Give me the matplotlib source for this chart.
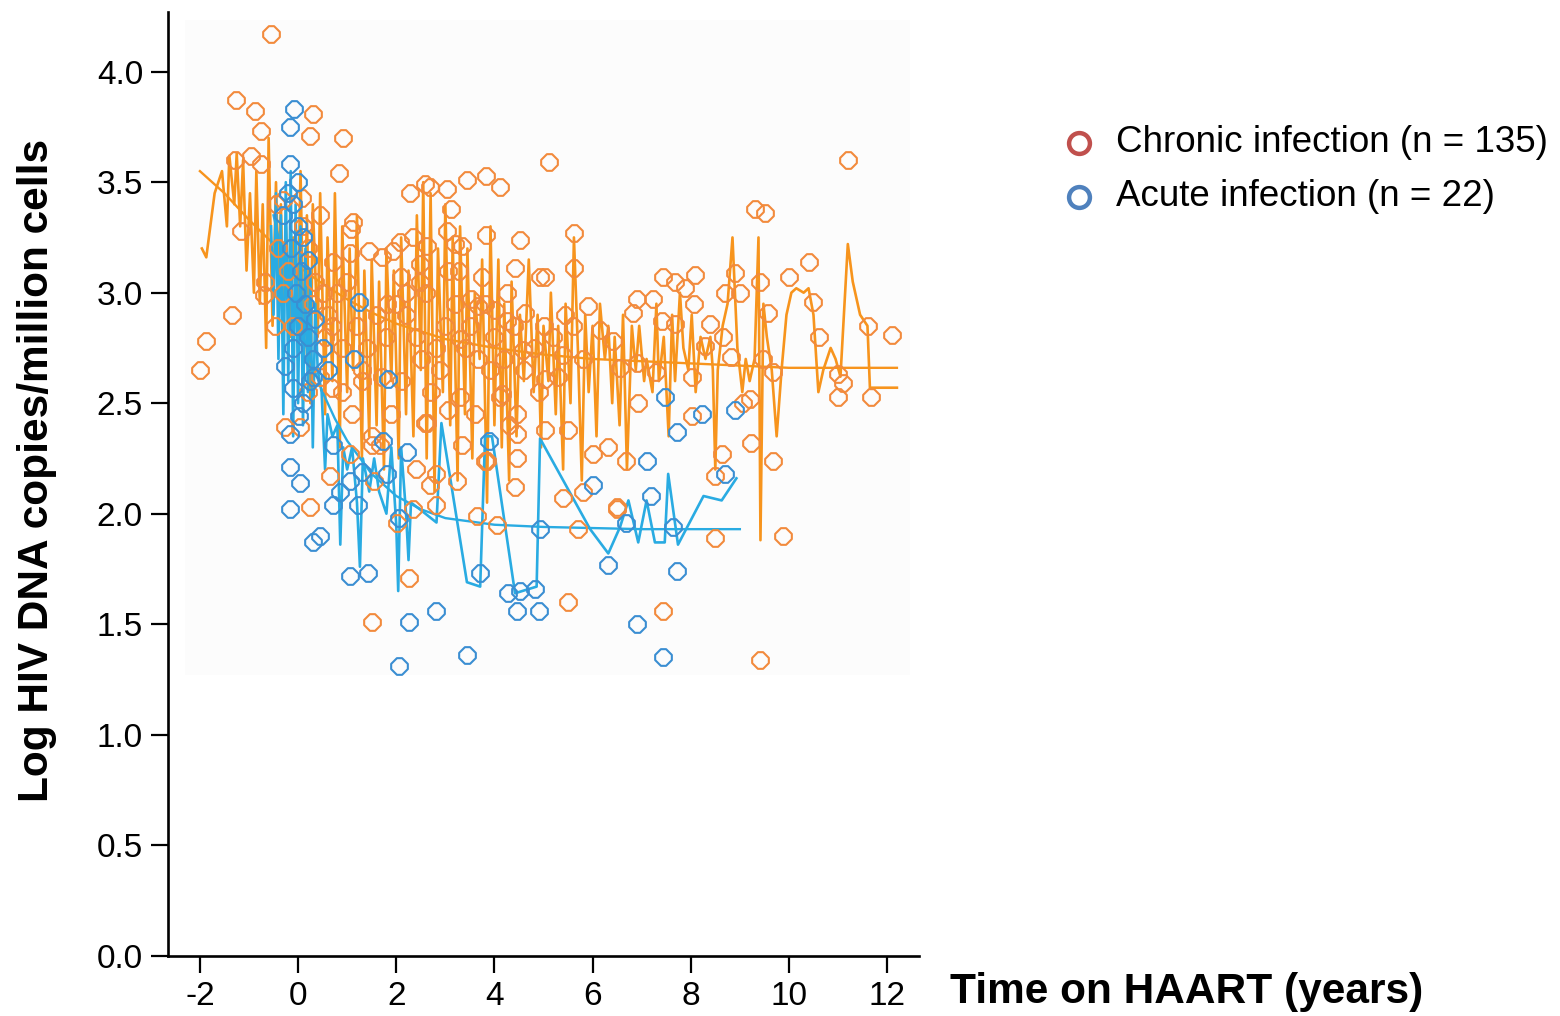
import matplotlib
matplotlib.use("Agg")
import matplotlib.pyplot as plt
from matplotlib.path import Path
from matplotlib.patches import Rectangle
from matplotlib.lines import Line2D

plt.rcParams['font.family'] = ['Liberation Sans', 'DejaVu Sans']

# ---------------- data ----------------
chronic_points = [
    (-2.00, 2.65), (-1.87, 2.78), (-0.56, 4.17), (-1.27, 3.87), (-0.87, 3.82), (-0.76, 3.73),
    (0.31, 3.81), (0.24, 3.71), (0.92, 3.70), (0.84, 3.54), (-1.28, 3.60), (-0.96, 3.62),
    (-0.75, 3.58), (2.28, 3.45), (2.59, 3.49), (0.45, 3.35), (1.11, 3.32), (1.07, 3.29),
    (-1.16, 3.28), (2.08, 3.23), (2.35, 3.25), (1.44, 3.19), (1.71, 3.16), (0.72, 3.14),
    (1.06, 3.18), (1.94, 3.19), (2.10, 3.07), (2.48, 3.13), (-0.67, 3.05), (-0.69, 2.99),
    (-1.35, 2.90), (-0.47, 2.85), (1.81, 2.95), (0.08, 3.43), (-0.31, 3.42),
    (-0.26, 2.39), (0.24, 2.03), (1.30, 2.60), (0.69, 2.57), (1.50, 2.31), (1.50, 1.51),
    (2.25, 1.71), (2.01, 1.96), (2.35, 2.02), (0.65, 2.17), (2.59, 2.41), (1.67, 2.31),
    (1.06, 2.27), (0.04, 2.39),
    (5.11, 3.59), (2.69, 3.48), (3.04, 3.47), (3.44, 3.51), (3.83, 3.53), (4.11, 3.48),
    (3.12, 3.38), (3.04, 3.28), (3.83, 3.26), (4.52, 3.24), (5.62, 3.27), (2.62, 3.21),
    (3.20, 3.22), (3.33, 3.21), (4.42, 3.11), (5.62, 3.11), (4.93, 3.07), (5.03, 3.07),
    (7.43, 3.07), (3.06, 3.10), (3.27, 3.10), (3.74, 3.07), (4.25, 3.00), (4.62, 2.91),
    (5.91, 2.94), (6.90, 2.97), (7.24, 2.97), (6.83, 2.91), (5.44, 2.90), (6.15, 2.83),
    (6.42, 2.78), (7.41, 2.87), (4.25, 2.87), (3.52, 2.97), (3.67, 2.94), (4.01, 2.92),
    (2.48, 3.05), (3.30, 2.79), (4.59, 2.74), (6.56, 2.66), (6.90, 2.68), (7.30, 2.64),
    (3.67, 2.70), (3.91, 2.65), (5.03, 2.61), (3.30, 2.53), (4.15, 2.54), (6.93, 2.50),
    (3.06, 2.47), (2.62, 2.41), (4.45, 2.45), (5.03, 2.38), (5.50, 2.38), (3.33, 2.31),
    (4.45, 2.36), (3.84, 2.24), (4.45, 2.25), (6.01, 2.27), (6.32, 2.30), (6.69, 2.24),
    (2.82, 2.18), (5.50, 1.60), (7.43, 1.56), (5.40, 2.07), (5.71, 1.93), (6.49, 2.02),
    (5.81, 2.10), (4.05, 1.95), (3.64, 1.99), (2.82, 2.04), (2.69, 2.13), (3.23, 2.15),
    (3.81, 2.24), (4.42, 2.12), (4.11, 2.53),
    (11.21, 3.60), (9.31, 3.38), (9.51, 3.36), (10.41, 3.14), (10.01, 3.07), (8.90, 3.09),
    (9.41, 3.05), (7.68, 3.05), (7.88, 3.02), (8.09, 3.08), (8.70, 3.00), (9.00, 3.00),
    (10.49, 2.96), (8.07, 2.95), (9.58, 2.91), (8.39, 2.86), (7.68, 2.86), (11.62, 2.85),
    (12.09, 2.81), (10.61, 2.80), (8.65, 2.80), (8.29, 2.76), (8.83, 2.71), (9.48, 2.70),
    (8.02, 2.62), (9.68, 2.64), (11.00, 2.63), (11.11, 2.59), (11.00, 2.53), (11.68, 2.53),
    (8.02, 2.44), (9.06, 2.50), (9.21, 2.52), (9.22, 2.32), (9.68, 2.24), (8.63, 2.27),
    (8.49, 2.17), (6.50, 2.03), (8.49, 1.89), (9.88, 1.90), (9.41, 1.34),
    (0.10, 3.30), (0.20, 3.20), (0.35, 3.05), (0.50, 3.00), (0.60, 2.90), (0.70, 2.85),
    (0.90, 2.75), (0.30, 2.95), (0.55, 2.80), (0.80, 3.00), (1.00, 3.05), (0.45, 2.62),
    (1.20, 2.85), (1.40, 2.75), (1.60, 2.90), (1.80, 2.80), (2.00, 2.95), (2.20, 2.90),
    (2.40, 2.80), (1.30, 2.65), (1.70, 2.62), (2.10, 2.60), (2.50, 2.70), (2.80, 2.75),
    (3.00, 2.85), (2.90, 2.65), (3.50, 2.85), (3.80, 2.95), (4.00, 2.80), (4.20, 2.70),
    (4.40, 2.85), (4.60, 2.65), (4.80, 2.75), (5.00, 2.85), (5.20, 2.80), (5.40, 2.72),
    (5.60, 2.85), (5.80, 2.70), (4.90, 2.55), (5.30, 2.62), (1.10, 2.45), (1.90, 2.45),
    (2.70, 2.55), (3.60, 2.45), (4.30, 2.40), (1.50, 2.35), (0.20, 2.55), (-0.20, 3.10),
    (-0.40, 3.20), (-0.10, 2.85), (-0.45, 3.40), (-0.30, 3.00), (2.20, 3.00), (2.60, 3.00),
    (3.20, 2.95), (3.40, 2.75), (0.90, 2.55), (1.55, 2.15), (2.40, 2.20),
]

acute_points = [
    (-0.08, 3.83), (-0.16, 3.75), (-0.16, 3.58), (1.24, 2.96),
    (-0.26, 2.67), (-0.10, 2.57), (0.01, 2.44), (-0.16, 2.36), (-0.16, 2.21), (0.04, 2.14),
    (-0.16, 2.02), (0.45, 1.90), (0.31, 1.87), (1.05, 1.72), (1.43, 1.73), (2.25, 1.51),
    (2.05, 1.31), (0.72, 2.31), (0.86, 2.10), (0.72, 2.04), (1.23, 2.04), (1.06, 2.15),
    (1.30, 2.19), (1.81, 2.18), (1.84, 2.61), (2.05, 1.98), (2.21, 2.28), (0.31, 2.62),
    (1.74, 2.33), (1.13, 2.70),
    (7.10, 2.24), (7.47, 2.53), (3.88, 2.33),
    (2.82, 1.56), (3.44, 1.36), (3.71, 1.73), (4.28, 1.64), (4.52, 1.65), (4.83, 1.66),
    (4.45, 1.56), (4.90, 1.56), (4.93, 1.93), (6.01, 2.13), (6.32, 1.77), (7.20, 2.08),
    (6.90, 1.50), (6.69, 1.96), (7.43, 1.35),
    (8.22, 2.45), (7.71, 2.37), (8.90, 2.47), (8.70, 2.18), (7.64, 1.94), (7.71, 1.74),
    (-0.20, 3.45), (-0.10, 3.40), (0.00, 3.30), (-0.15, 3.20), (0.05, 3.10), (0.10, 3.25),
    (-0.05, 3.00), (0.15, 2.95), (0.00, 2.85), (0.20, 2.80), (-0.10, 2.75), (0.30, 2.70),
    (0.25, 2.60), (0.10, 2.50), (0.35, 2.88), (-0.30, 3.35), (0.00, 3.50), (0.50, 2.75),
    (0.60, 2.65), (0.20, 3.15),
]

chronic_trace_t = [
    -1.96, -1.87, -1.70, -1.55, -1.45, -1.40, -1.30, -1.25, -1.18, -1.12, -1.05, -0.98,
    -0.90, -0.85, -0.78, -0.72, -0.65, -0.60, -0.52, -0.45, -0.40, -0.35, -0.30, -0.25,
    -0.15, -0.10, 0.00, 0.05, 0.12, 0.18, 0.25, 0.30, 0.40, 0.45, 0.55, 0.60, 0.70, 0.75,
    0.85, 0.90, 1.00, 1.05, 1.12, 1.20, 1.30, 1.35, 1.45, 1.50, 1.60, 1.65, 1.75, 1.80,
    1.90, 1.95, 2.05, 2.10, 2.20, 2.25, 2.35, 2.42, 2.50, 2.55, 2.62, 2.70, 2.78, 2.85,
    2.95, 3.00, 3.10, 3.15, 3.25, 3.30, 3.40, 3.45, 3.55, 3.60, 3.70, 3.75, 3.85, 3.92,
    4.00, 4.08, 4.15, 4.20, 4.30, 4.35, 4.45, 4.52, 4.60, 4.70, 4.80, 4.88, 4.95, 5.00,
    5.10, 5.15, 5.25, 5.30, 5.40, 5.45, 5.55, 5.62, 5.70, 5.78, 5.85, 5.92, 6.00, 6.08,
    6.15, 6.25, 6.32, 6.40, 6.45, 6.55, 6.62, 6.70, 6.80, 6.88, 6.95, 7.05, 7.10, 7.22,
    7.30, 7.35, 7.45, 7.55, 7.62, 7.68, 7.78, 7.85, 7.95, 8.02, 8.10, 8.20, 8.30, 8.40,
    8.45, 8.50, 8.55, 8.65, 8.75, 8.85, 8.95, 9.05, 9.12, 9.20, 9.30, 9.38, 9.42, 9.48,
    9.55, 9.65, 9.75, 9.85, 9.95, 10.05, 10.15, 10.30, 10.40, 10.50, 10.60, 10.70, 10.85,
    10.95, 11.05, 11.20, 11.30, 11.45, 11.60, 11.65, 12.20,
]
chronic_trace_v = [
    3.20, 3.16, 3.45, 3.55, 3.30, 3.62, 3.40, 3.63, 3.30, 3.60, 3.10, 3.45,
    3.00, 3.55, 2.95, 3.40, 2.75, 3.70, 2.85, 3.50, 3.05, 3.40, 2.90, 3.30,
    2.80, 3.25, 2.95, 3.55, 2.70, 3.35, 2.50, 3.40, 2.80, 3.45, 2.45, 3.25, 2.60, 3.45,
    2.30, 3.30, 2.55, 3.20, 2.65, 3.35, 2.25, 3.10, 2.35, 3.15, 2.40, 3.05, 2.20, 3.20,
    2.60, 3.10, 2.25, 3.25, 2.45, 3.10, 2.35, 3.35, 2.65, 3.50, 2.25, 3.45, 2.10, 3.20,
    2.55, 3.40, 2.40, 3.25, 2.15, 3.30, 2.45, 3.20, 2.25, 3.00, 2.70, 3.15, 2.05, 3.30,
    2.40, 3.15, 2.30, 2.95, 2.15, 3.05, 2.35, 2.90, 2.60, 3.15, 2.55, 2.90, 2.30, 2.85,
    2.60, 3.00, 2.45, 2.85, 2.20, 2.95, 2.50, 3.25, 2.75, 2.15, 2.90, 2.55, 2.85, 2.35,
    2.95, 2.70, 2.85, 2.50, 2.80, 2.40, 2.90, 2.20, 2.85, 2.65, 2.85, 2.60, 2.70, 2.55,
    2.95, 2.60, 2.80, 2.35, 2.90, 2.60, 3.00, 2.75, 2.65, 2.90, 2.55, 2.80, 2.70, 2.80,
    2.65, 2.20, 2.65, 2.85, 2.95, 3.25, 2.75, 2.55, 2.70, 2.60, 2.70, 3.25, 1.88, 2.95,
    2.80, 2.65, 2.35, 2.65, 2.90, 3.00, 3.02, 3.00, 3.02, 2.90, 2.55, 2.65, 2.75,
    2.70, 2.62, 3.22, 3.05, 2.90, 2.85, 2.57, 2.57,
]

acute_trace_t = [
    -0.55, -0.50, -0.45, -0.40, -0.35, -0.30, -0.25, -0.20, -0.15, -0.10, -0.05, 0.00,
    0.05, 0.10, 0.15, 0.20, 0.25, 0.30, 0.35, 0.40, 0.48, 0.55, 0.60, 0.70, 0.80, 0.86,
    0.92, 1.00, 1.10, 1.20, 1.26, 1.32, 1.45, 1.55, 1.65, 1.80, 1.90, 2.00, 2.04, 2.10,
    2.20, 2.25, 2.30, 2.48, 2.82, 2.92, 3.44, 3.71, 3.81, 3.95, 4.42, 4.86, 4.93, 5.95,
    6.32, 6.56, 6.73, 6.93, 7.10, 7.27, 7.47, 7.54, 7.74, 8.26, 8.63, 8.93,
]
acute_trace_v = [
    3.30, 2.90, 3.45, 2.70, 3.35, 2.45, 3.50, 2.60, 3.55, 2.35, 3.40, 2.50,
    3.30, 2.40, 3.20, 2.55, 3.10, 2.30, 2.95, 2.65, 2.55, 2.20, 2.45, 2.35, 2.40, 1.86,
    2.30, 2.20, 2.30, 2.05, 1.76, 2.25, 2.10, 2.25, 2.10, 2.00, 2.30, 1.95, 1.65, 2.30,
    2.00, 1.79, 2.05, 2.02, 1.96, 2.41, 1.69, 1.67, 2.35, 2.35, 1.64, 1.67, 2.34, 1.93,
    1.82, 1.94, 2.06, 1.87, 2.06, 1.87, 1.87, 2.18, 1.86, 2.08, 2.06, 2.16,
]

chronic_fit_t = [-2.0, -1.5, -1.0, -0.5, 0.0, 0.5, 1.0, 1.5, 2.0, 3.0, 4.0, 5.0, 6.0,
                 7.0, 8.0, 9.0, 10.0, 11.0, 12.2]
chronic_fit_v = [3.55, 3.45, 3.33, 3.22, 3.12, 3.04, 2.97, 2.91, 2.86, 2.79, 2.75, 2.72,
                 2.70, 2.69, 2.68, 2.67, 2.66, 2.66, 2.66]
acute_fit_t = [-0.5, -0.25, 0.0, 0.25, 0.5, 0.75, 1.0, 1.5, 2.0, 2.5, 3.0, 4.0, 5.0,
               6.0, 7.0, 8.0, 9.0]
acute_fit_v = [3.35, 3.10, 2.88, 2.70, 2.55, 2.43, 2.33, 2.18, 2.08, 2.02, 1.98, 1.95,
               1.94, 1.935, 1.93, 1.93, 1.93]

legend_labels = ["Chronic infection (n = 135)", "Acute infection (n = 22)"]
y_ticks = [0.0, 0.5, 1.0, 1.5, 2.0, 2.5, 3.0, 3.5, 4.0]
x_ticks = [-2, 0, 2, 4, 6, 8, 10, 12]

# ---------------- styles ----------------
ORANGE_LINE = '#F7941D'
ORANGE_MARK = '#F28A3C'
BLUE_LINE = '#29ABE2'
BLUE_MARK = '#3A8ED2'
LEG_RED = '#C0504D'
LEG_BLUE = '#4F81BD'

octagon = Path([(-0.28, 0.9), (0.28, 0.9), (0.9, 0.28), (0.9, -0.28), (0.28, -0.9),
                (-0.28, -0.9), (-0.9, -0.28), (-0.9, 0.28), (-0.28, 0.9)],
               [Path.MOVETO] + [Path.LINETO] * 7 + [Path.CLOSEPOLY])

W, H = 1560, 1016
fig = plt.figure(figsize=(W / 100, H / 100), dpi=100)
fig.patch.set_facecolor('white')

ax = fig.add_axes([168 / W, 1 - 955.7 / H, 751 / W, (955.7 - 12) / H])
ax.set_facecolor('none')
ax.set_xlim(-2.65, 12.65)
ax.set_ylim(0, 4.27)

ax.add_patch(Rectangle((185 / W, 1 - 675 / H), (910 - 185) / W, (675 - 20) / H,
                       transform=fig.transFigure, facecolor='#fcfcfc',
                       edgecolor='none', zorder=0, clip_on=False))

ax.plot(chronic_trace_t, chronic_trace_v, color=ORANGE_LINE, lw=1.9, zorder=2)
ax.plot(chronic_fit_t, chronic_fit_v, color=ORANGE_LINE, lw=1.7, zorder=2)
ax.plot(acute_trace_t, acute_trace_v, color=BLUE_LINE, lw=1.9, zorder=3)
ax.plot(acute_fit_t, acute_fit_v, color=BLUE_LINE, lw=1.7, zorder=3)

ct = [p[0] for p in chronic_points]
cv = [p[1] for p in chronic_points]
at = [p[0] for p in acute_points]
av = [p[1] for p in acute_points]
ax.plot(ct, cv, linestyle='none', marker=octagon, markersize=12, markerfacecolor='none',
        markeredgecolor=ORANGE_MARK, markeredgewidth=1.5, zorder=4)
ax.plot(at, av, linestyle='none', marker=octagon, markersize=12, markerfacecolor='none',
        markeredgecolor=BLUE_MARK, markeredgewidth=1.5, zorder=5)

for s in ['top', 'right']:
    ax.spines[s].set_visible(False)
for s in ['left', 'bottom']:
    ax.spines[s].set_linewidth(1.9)
ax.set_yticks(y_ticks)
ax.set_yticklabels([f"{v:.1f}" for v in y_ticks])
ax.set_xticks(x_ticks)
ax.set_xticklabels([str(v) for v in x_ticks])
ax.tick_params(direction='out', length=12, width=1.6, labelsize=24, pad=6, colors='black')

fig.text(37 / W, 1 - 470 / H, "Log HIV DNA copies/million cells", rotation=90,
         ha='center', va='center', fontsize=30.5, fontweight='bold')
fig.text(950 / W, 1 - 992 / H, "Time on HAART (years)", ha='left', va='center',
         fontsize=30.5, fontweight='bold')

for i, (lab, col) in enumerate(zip(legend_labels, [LEG_RED, LEG_BLUE])):
    yy = 1 - (143 + 54 * i) / H
    fig.add_artist(Line2D([1079 / W], [yy], transform=fig.transFigure, marker='o',
                          markersize=15, markerfacecolor='none', markeredgecolor=col,
                          markeredgewidth=3.2, linestyle='none'))
    fig.text(1116 / W, yy, lab, ha='left', va='center', fontsize=26.5)

fig.savefig('out.png', dpi=100)
